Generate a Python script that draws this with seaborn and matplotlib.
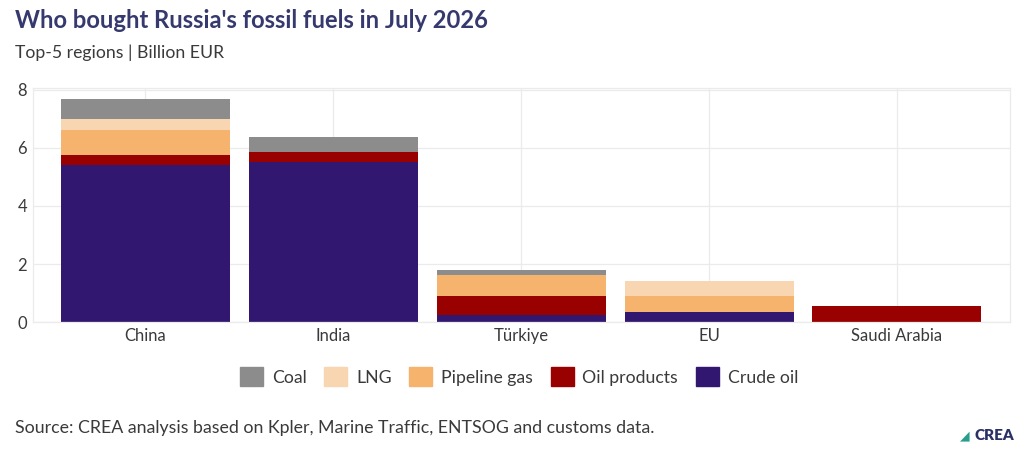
import numpy as np
import pandas as pd
import seaborn as sns
import matplotlib.pyplot as plt
from matplotlib.patches import Patch

# data (billion EUR)
regions = ["China", "India", "Türkiye", "EU", "Saudi Arabia"]
crude_oil = [5.40, 5.53, 0.24, 0.34, 0.00]
oil_products = [0.36, 0.33, 0.65, 0.00, 0.56]
pipeline_gas = [0.84, 0.00, 0.73, 0.55, 0.00]
lng = [0.41, 0.00, 0.00, 0.52, 0.00]
coal = [0.68, 0.50, 0.16, 0.00, 0.00]

fuels = ["Crude oil", "Oil products", "Pipeline gas", "LNG", "Coal"]
colors = {"Crude oil": "#321770", "Oil products": "#990000",
          "Pipeline gas": "#f5b36e", "LNG": "#f9d6b2", "Coal": "#8c8c8c"}

sns.set_theme(style="whitegrid")
plt.rcParams['font.family'] = ['Lato', 'DejaVu Sans']

df = pd.DataFrame({"region": regions, "Crude oil": crude_oil,
                   "Oil products": oil_products, "Pipeline gas": pipeline_gas,
                   "LNG": lng, "Coal": coal})
cum = df[fuels].cumsum(axis=1)

fig = plt.figure(figsize=(10.24, 4.55), dpi=100)
ax = fig.add_axes([0.032, 0.292, 0.954, 0.515])

# stacked bars: draw cumulative totals from the top layer down
for f in reversed(fuels):
    sns.barplot(x=df["region"], y=cum[f], color=colors[f], width=0.9,
                saturation=1, ax=ax, linewidth=0)

ax.set_xlim(-0.6, 4.6)
ax.set_ylim(0, 8.07)
ax.set_yticks([0, 2, 4, 6, 8])
ax.set_xlabel("")
ax.set_ylabel("")
ax.grid(True, color="#ebebeb", linewidth=0.9)
ax.set_axisbelow(True)
for s in ax.spines.values():
    s.set_color("#ebebeb")
    s.set_linewidth(0.9)
ax.tick_params(axis="both", length=0, labelsize=12, labelcolor="#3a3a3a", pad=4)

fig.text(0.0146, 0.955, "Who bought Russia's fossil fuels in July 2026",
         fontsize=17.1, fontweight="bold", color="#35396e", va="center")
fig.text(0.0146, 0.885, "Top-5 regions | Billion EUR",
         fontsize=12.7, color="#3a3a3a", va="center")

handles = [Patch(color=colors[f], label=f) for f in reversed(fuels)]
fig.legend(handles=handles, loc="center", bbox_to_anchor=(0.507, 0.172),
           ncol=5, frameon=False, fontsize=12.7, handlelength=1.3,
           handleheight=1.3, columnspacing=1.0, handletextpad=0.5,
           labelcolor="#3a3a3a")

fig.text(0.0146, 0.06, "Source: CREA analysis based on Kpler, Marine Traffic, ENTSOG and customs data.",
         fontsize=12.8, color="#3a3a3a", va="center")
fig.text(0.952, 0.042, "CREA", fontsize=11, fontweight="heavy", color="#2b3166",
         va="center", ha="left")
fig.text(0.947, 0.042, "◢", fontsize=9, color="#2a9d8f", va="center", ha="right",
         family=["DejaVu Sans"])

fig.savefig("out.png", dpi=100)
